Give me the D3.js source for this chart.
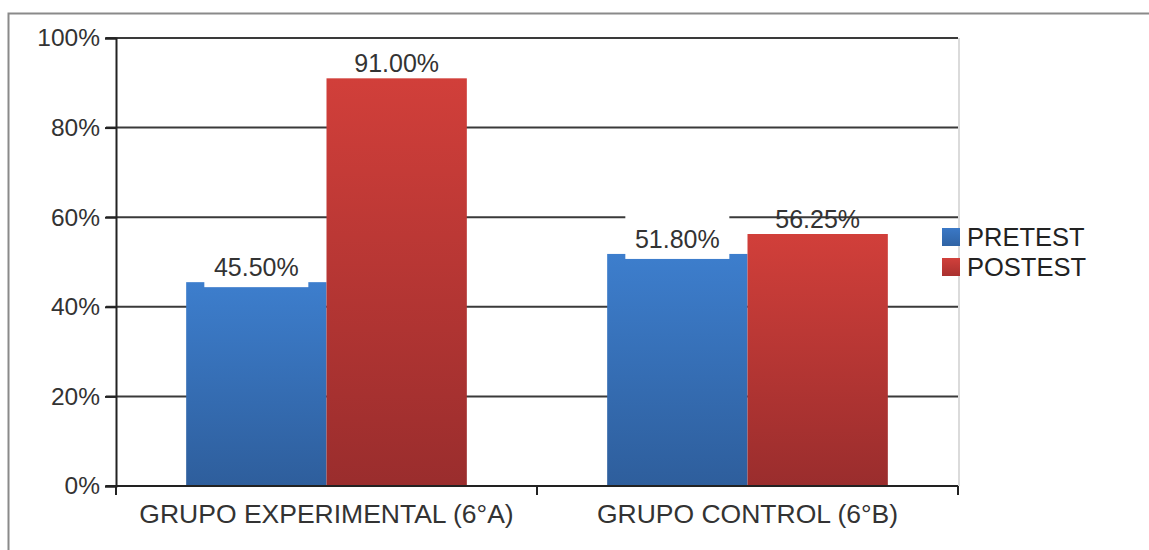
<!DOCTYPE html>
<html>
<head>
<meta charset="utf-8">
<script src="https://cdn.jsdelivr.net/npm/d3@7"></script>
<style>
  html, body { margin: 0; padding: 0; background: #fff; }
  svg { display: block; font-family: "Liberation Sans", Arial, sans-serif; }
</style>
</head>
<body>
<svg id="chart" width="1149" height="550"></svg>
<script>
// Data
const categories = ["GRUPO EXPERIMENTAL (6°A)", "GRUPO CONTROL (6°B)"];
const seriesNames = ["PRETEST", "POSTEST"];
const pretest = [45.5, 51.8];
const postest = [91.0, 56.25];
const yTicks = [0, 20, 40, 60, 80, 100];

const svg = d3.select("#chart");
const W = 1149, H = 550;

// Outer frame
svg.append("rect").attr("x", 8.5).attr("y", 13.5).attr("width", W + 10).attr("height", H + 10)
  .attr("fill", "#fff").attr("stroke", "#8a8a8a").attr("stroke-width", 2);

const plot = { left: 116, right: 958, top: 38, bottom: 486 };

const x0 = d3.scaleBand().domain(categories).range([plot.left, plot.right]);
// bars take two thirds of each category, centred
const x1 = d3.scaleBand().domain(seriesNames)
  .range([x0.bandwidth() / 6, x0.bandwidth() * 5 / 6]);
const y = d3.scaleLinear().domain([0, 100]).range([plot.bottom, plot.top]);

// Gradients
const defs = svg.append("defs");
const grads = { PRETEST: ["#3d7ecd", "#2e5e9c"], POSTEST: ["#d13f3a", "#9a2d2d"] };
Object.entries(grads).forEach(([k, c]) => {
  const g = defs.append("linearGradient").attr("id", "g-" + k).attr("x1", 0).attr("x2", 0).attr("y1", 0).attr("y2", 1);
  g.append("stop").attr("offset", "0%").attr("stop-color", c[0]);
  g.append("stop").attr("offset", "100%").attr("stop-color", c[1]);
});
const legendColor = { PRETEST: ["#3a78c6", "#2f63a4"], POSTEST: ["#d1403b", "#a9302f"] };

// Right plot border
svg.append("line").attr("x1", plot.right + 1).attr("x2", plot.right + 1).attr("y1", plot.top).attr("y2", plot.bottom)
  .attr("stroke", "#cfcfcf").attr("stroke-width", 1.5);

// Gridlines
svg.append("g").selectAll("line").data(yTicks.filter(t => t > 0)).join("line")
  .attr("x1", plot.left - 10).attr("x2", plot.right)
  .attr("y1", d => y(d)).attr("y2", d => y(d))
  .attr("stroke", "#3a3a3a").attr("stroke-width", 2);

// Bars
const data = categories.map((c, i) => ({ cat: c, vals: [
  { s: "PRETEST", v: pretest[i] }, { s: "POSTEST", v: postest[i] }] }));

const groups = svg.append("g").selectAll("g").data(data).join("g")
  .attr("transform", d => `translate(${x0(d.cat)},0)`);

groups.selectAll("rect").data(d => d.vals).join("rect")
  .attr("x", d => x1(d.s)).attr("width", x1.bandwidth())
  .attr("y", d => y(d.v)).attr("height", d => y(0) - y(d.v))
  .attr("fill", d => `url(#g-${d.s})`);

// White boxes behind PRETEST value labels
groups.each(function(d) {
  const g = d3.select(this);
  d.vals.forEach(v => {
    const cx = x1(v.s) + x1.bandwidth() / 2;
    if (v.s === "PRETEST") {
      g.append("rect").attr("x", cx - 52).attr("width", 104)
        .attr("y", y(v.v) - 42).attr("height", 47).attr("fill", "#fff");
    }
  });
});
groups.each(function(d) {
  const g = d3.select(this);
  d.vals.forEach(v => {
    const cx = x1(v.s) + x1.bandwidth() / 2;
    g.append("text").attr("x", cx).attr("y", y(v.v) - 6)
      .attr("text-anchor", "middle").attr("font-size", 25).attr("fill", "#333")
      .text(v.v.toFixed(2) + "%");
  });
});

// Y axis
const yAxis = d3.axisLeft(y).tickValues(yTicks).tickFormat(d => d + "%").tickSize(11).tickPadding(5);
const ya = svg.append("g").attr("transform", `translate(${plot.left},0)`).call(yAxis);
ya.select(".domain").attr("stroke", "#222").attr("stroke-width", 2);
ya.selectAll(".tick line").attr("stroke", "#222").attr("stroke-width", 2);
ya.selectAll(".tick text").attr("font-size", 24.5).attr("fill", "#333")
  .attr("font-family", "Liberation Sans, Arial, sans-serif");

// X axis
const xa = svg.append("g").attr("transform", `translate(0,${plot.bottom})`);
xa.append("line").attr("x1", plot.left - 10).attr("x2", plot.right).attr("y1", 0).attr("y2", 0)
  .attr("stroke", "#222").attr("stroke-width", 2);
const bounds = [plot.left, ...categories.map(c => x0(c) + x0.bandwidth())];
xa.selectAll("line.tk").data(bounds).join("line").attr("class", "tk")
  .attr("x1", d => d).attr("x2", d => d).attr("y1", 0).attr("y2", 9)
  .attr("stroke", "#222").attr("stroke-width", 2);
xa.selectAll("text").data(categories).join("text")
  .attr("x", d => x0(d) + x0.bandwidth() / 2).attr("y", 37)
  .attr("text-anchor", "middle").attr("font-size", 26.5).attr("fill", "#333").text(d => d);

// Legend
const lg = svg.append("g").attr("transform", "translate(942,228)");
seriesNames.forEach((s, i) => {
  const row = lg.append("g").attr("transform", `translate(0,${i * 30})`);
  const gid = "lg-" + s;
  const lgd = defs.append("linearGradient").attr("id", gid).attr("x1", 0).attr("x2", 0).attr("y1", 0).attr("y2", 1);
  lgd.append("stop").attr("offset", "0%").attr("stop-color", legendColor[s][0]);
  lgd.append("stop").attr("offset", "100%").attr("stop-color", legendColor[s][1]);
  row.append("rect").attr("width", 18).attr("height", 18).attr("fill", `url(#${gid})`);
  row.append("text").attr("x", 25).attr("y", 18).attr("font-size", 25.5).attr("fill", "#222").text(s);
});
</script>
</body>
</html>
